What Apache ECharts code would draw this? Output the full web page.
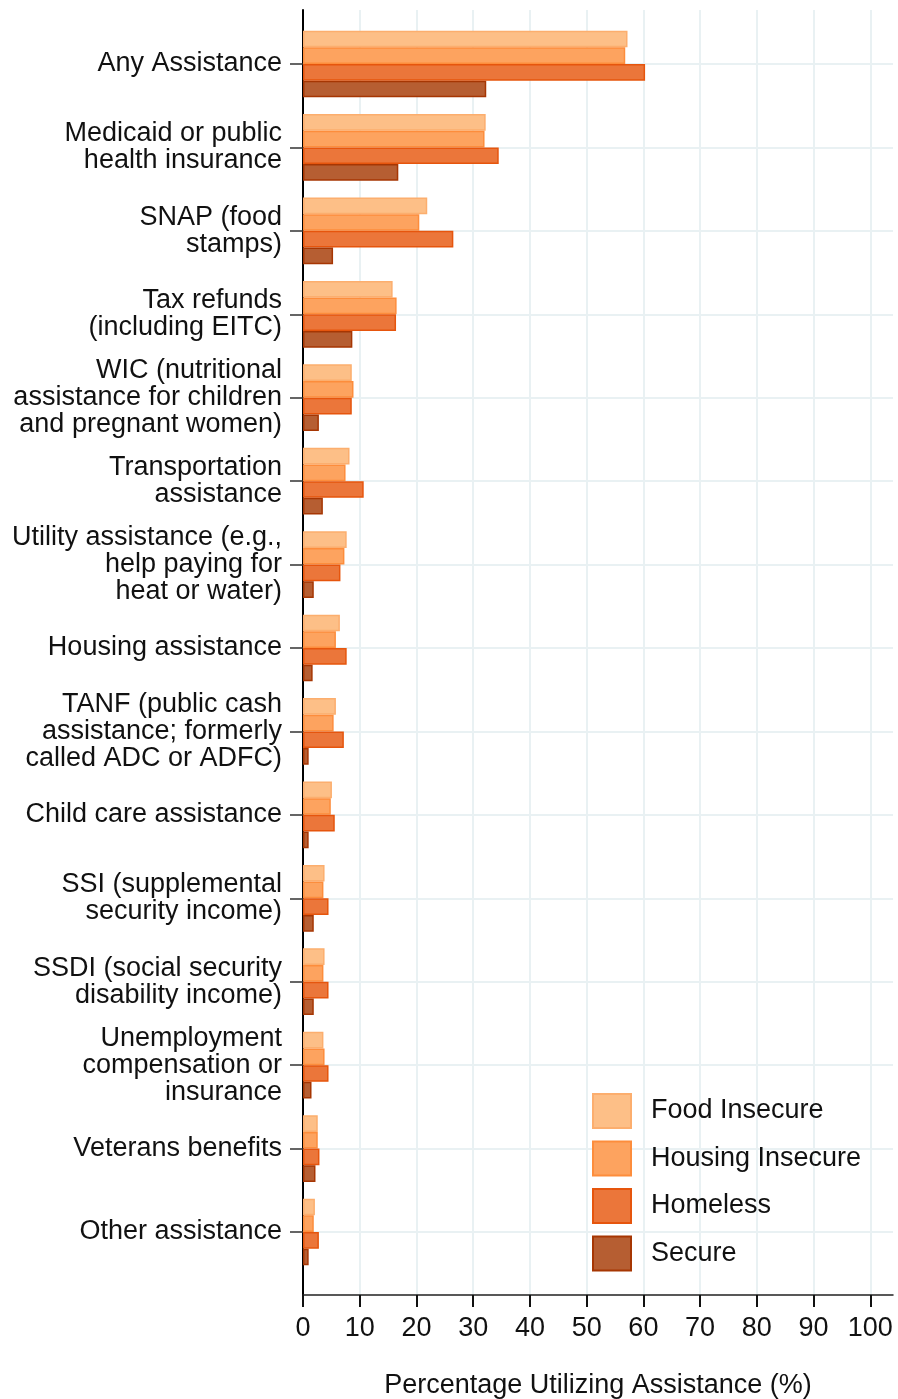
<!DOCTYPE html>
<html>
<head>
<meta charset="utf-8">
<script src="https://cdn.jsdelivr.net/npm/echarts@6/dist/echarts.min.js"></script>
<style>
  html, body { margin: 0; padding: 0; background: #fff; }
  #chart { width: 898px; height: 1399px; }
</style>
</head>
<body>
<div id="chart"></div>
<script>
// categories, top to bottom
var categories = [
  'Any Assistance',
  'Medicaid or public\nhealth insurance',
  'SNAP (food\nstamps)',
  'Tax refunds\n(including EITC)',
  'WIC (nutritional\nassistance for children\nand pregnant women)',
  'Transportation\nassistance',
  'Utility assistance (e.g.,\nhelp paying for\nheat or water)',
  'Housing assistance',
  'TANF (public cash\nassistance; formerly\ncalled ADC or ADFC)',
  'Child care assistance',
  'SSI (supplemental\nsecurity income)',
  'SSDI (social security\ndisability income)',
  'Unemployment\ncompensation or\ninsurance',
  'Veterans benefits',
  'Other assistance'
]

var foodInsecure    = [57.2, 32.2, 21.9, 15.8, 8.6, 8.2, 7.7, 6.5, 5.8, 5.1, 3.8, 3.8, 3.6, 2.6, 2.1]
var housingInsecure = [56.8, 32.0, 20.5, 16.5, 8.9, 7.5, 7.3, 5.8, 5.4, 4.9, 3.6, 3.6, 3.8, 2.6, 1.9]
var homeless        = [60.3, 34.5, 26.5, 16.4, 8.6, 10.7, 6.6, 7.7, 7.2, 5.6, 4.5, 4.5, 4.5, 2.9, 2.8]
var secure          = [32.3, 16.8, 5.3, 8.7, 2.8, 3.5, 1.9, 1.7, 1.0, 1.0, 1.9, 1.9, 1.5, 2.2, 1.0]

var xTicks = [0, 10, 20, 30, 40, 50, 60, 70, 80, 90, 100]

var FONT = '"Liberation Sans", Arial, Helvetica, sans-serif'
var gridColor = '#e9f1f3'

var Chart = echarts.init(document.getElementById('chart'))

function barSeries(name, data, fill, border) {
    return {
        name: name,
        type: 'bar',
        xAxisIndex: 1,
        yAxisIndex: 1,
        data: data,
        clip: false,
        barGap: '0%',
        barCategoryGap: '20%',
        itemStyle: {
            color: fill,
            borderColor: border,
            borderWidth: 1.5
        }
    }
}

var option = {
    animation: false,
    backgroundColor: '#fff',
    textStyle: { fontFamily: FONT },
    grid: [
        // frame grid: full axis lines, x ticks, vertical grid lines
        { left: 303, top: 10, width: 590, height: 1285, outerBoundsMode: 'none' },
        // bar grid: category centres from first to last tick
        { left: 303, top: 64, width: 590, height: 1168, outerBoundsMode: 'none' }
    ],
    legend: {
        orient: 'vertical',
        left: 592,
        top: 1093,
        padding: 0,
        itemWidth: 38,
        itemHeight: 34,
        itemGap: 11.5,
        icon: 'rect',
        textStyle: {
            fontFamily: FONT,
            fontSize: 27,
            lineHeight: 34,
            color: '#111',
            padding: [0, 0, 0, 15]
        },
        data: ['Food Insecure', 'Housing Insecure', 'Homeless', 'Secure']
    },
    xAxis: [
        {
            gridIndex: 0,
            type: 'value',
            min: 0,
            max: 104,
            interval: 10,
            name: 'Percentage Utilizing Assistance (%)',
            nameLocation: 'middle',
            nameGap: 77,
            nameTextStyle: { fontFamily: FONT, fontSize: 27, color: '#111' },
            axisLine: { show: true, lineStyle: { color: '#222', width: 1.5 } },
            axisTick: { show: true, length: 12, lineStyle: { color: '#111', width: 2 }, customValues: xTicks },
            axisLabel: { fontFamily: FONT, fontSize: 27, color: '#111', margin: 20, customValues: xTicks },
            splitLine: { show: true, lineStyle: { color: gridColor, width: 2 } }
        },
        {
            gridIndex: 1,
            type: 'value',
            min: 0,
            max: 104,
            show: false,
            splitLine: { show: false }
        }
    ],
    yAxis: [
        {
            gridIndex: 0,
            type: 'value',
            min: 0,
            max: 1,
            axisLine: { show: true, onZero: false, lineStyle: { color: '#000', width: 2 } },
            axisTick: { show: false },
            axisLabel: { show: false },
            splitLine: { show: false }
        },
        {
            gridIndex: 1,
            type: 'category',
            data: categories,
            inverse: true,
            boundaryGap: false,
            axisLine: { show: false },
            axisTick: { show: true, length: 13, lineStyle: { color: '#333', width: 1.5 } },
            axisLabel: {
                fontFamily: FONT,
                fontSize: 27,
                lineHeight: 27,
                color: '#111',
                margin: 21,
                interval: 0,
                align: 'right'
            },
            splitLine: { show: true, lineStyle: { color: gridColor, width: 2 } }
        }
    ],
    series: [
        barSeries('Food Insecure', foodInsecure, '#fdbf87', '#fcae6e'),
        barSeries('Housing Insecure', housingInsecure, '#fda35f', '#fd8d3c'),
        barSeries('Homeless', homeless, '#eb763a', '#e6550d'),
        barSeries('Secure', secure, '#b65e32', '#a63603')
    ]
}
Chart.setOption(option)
</script>
</body>
</html>
